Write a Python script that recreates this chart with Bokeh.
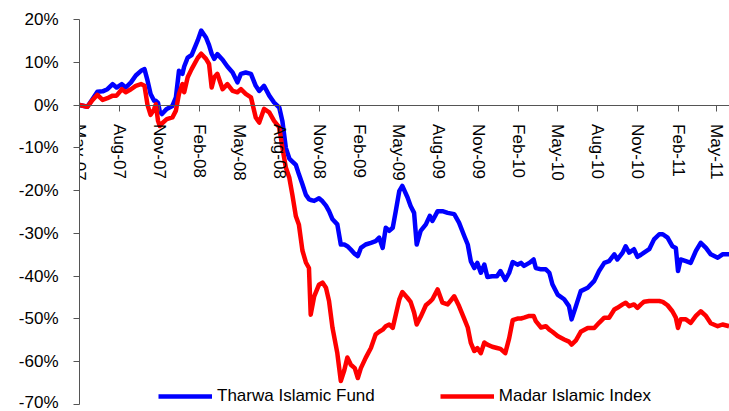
import math
from datetime import datetime
from bokeh.plotting import figure
from bokeh.models import (Range1d, FixedTicker, PrintfTickFormatter, DatetimeTickFormatter,
                          Legend, LegendItem)
from bokeh.embed import file_html
from bokeh.resources import INLINE

dates = [
    "2007-05-01", "2007-05-19", "2007-05-31", "2007-06-11", "2007-06-23", "2007-07-04", "2007-07-16",
    "2007-07-25", "2007-08-06", "2007-08-15", "2007-08-27", "2007-09-07", "2007-09-19", "2007-09-27",
    "2007-10-04", "2007-10-11", "2007-10-19", "2007-10-23", "2007-10-28", "2007-11-01", "2007-11-06",
    "2007-11-17", "2007-11-30", "2007-12-08", "2007-12-15", "2007-12-23", "2007-12-27", "2008-01-04",
    "2008-01-13", "2008-01-27", "2008-02-04", "2008-02-15", "2008-02-22", "2008-02-28", "2008-03-05",
    "2008-03-12", "2008-03-24", "2008-04-04", "2008-04-16", "2008-04-27", "2008-05-05", "2008-05-16",
    "2008-05-28", "2008-06-08", "2008-06-16", "2008-06-27", "2008-07-09", "2008-07-20", "2008-08-01",
    "2008-08-08", "2008-08-16", "2008-08-24", "2008-08-31", "2008-09-08", "2008-09-15", "2008-09-23",
    "2008-10-01", "2008-10-08", "2008-10-12", "2008-10-20", "2008-10-31", "2008-11-08", "2008-11-16",
    "2008-11-23", "2008-12-01", "2008-12-12", "2008-12-20", "2008-12-28", "2009-01-04", "2009-01-12",
    "2009-01-21", "2009-01-28", "2009-02-04", "2009-02-15", "2009-02-27", "2009-03-10", "2009-03-18",
    "2009-03-26", "2009-04-02", "2009-04-10", "2009-04-18", "2009-04-25", "2009-05-03", "2009-05-10",
    "2009-05-22", "2009-05-29", "2009-06-06", "2009-06-12", "2009-06-21", "2009-07-03", "2009-07-12",
    "2009-07-18", "2009-07-30", "2009-08-10", "2009-08-22", "2009-09-06", "2009-09-17", "2009-09-29",
    "2009-10-07", "2009-10-14", "2009-10-22", "2009-10-29", "2009-11-06", "2009-11-14", "2009-11-21",
    "2009-12-02", "2009-12-13", "2009-12-21", "2010-01-01", "2010-01-10", "2010-01-18", "2010-01-29",
    "2010-02-06", "2010-02-13", "2010-02-25", "2010-03-07", "2010-03-12", "2010-03-24", "2010-04-04",
    "2010-04-12", "2010-04-19", "2010-05-01", "2010-05-16", "2010-05-27", "2010-06-02", "2010-06-12",
    "2010-06-23", "2010-07-09", "2010-07-24", "2010-08-04", "2010-08-16", "2010-08-27", "2010-09-08",
    "2010-09-15", "2010-09-27", "2010-10-04", "2010-10-12", "2010-10-23", "2010-10-31", "2010-11-08",
    "2010-11-15", "2010-11-27", "2010-12-08", "2010-12-20", "2010-12-28", "2011-01-08", "2011-01-19",
    "2011-01-27", "2011-02-01", "2011-02-07", "2011-02-19", "2011-03-02", "2011-03-14", "2011-03-25",
    "2011-04-06", "2011-04-17", "2011-05-03", "2011-05-14", "2011-05-29",
]

tharwa_islamic_fund = [
    0.0, -0.4, 1.4, 3.1, 3.2, 3.7, 4.9, 4.1, 4.9, 4.1, 5.3, 6.9, 8.0, 8.4,
    5.7, 2.6, 1.0, 1.0, 0.5, -1.5, -2.1, -0.9, -0.2, 1.8, 8.0, 7.3, 9.0, 11.1,
    11.7, 15.1, 17.4, 15.8, 14.0, 12.0, 10.8, 11.9, 10.6, 9.0, 7.6, 5.3, 7.3, 7.6,
    7.3, 4.5, 3.3, 4.5, 2.2, 0.6, -0.6, -3.7, -10.0, -12.5, -13.2, -14.0, -16.2, -18.5,
    -21.0, -22.0, -22.2, -22.4, -21.8, -22.5, -23.5, -24.8, -26.7, -27.9, -32.6, -32.6, -33.0, -33.8,
    -34.8, -35.3, -33.4, -32.6, -32.2, -31.8, -31.0, -33.4, -28.7, -29.4, -28.7, -24.8, -20.1, -18.9,
    -21.6, -23.6, -25.2, -32.6, -29.4, -27.9, -25.9, -27.1, -24.8, -24.8, -25.2, -25.5, -27.5, -30.6,
    -32.6, -36.5, -38.1, -36.9, -39.2, -37.3, -40.2, -40.0, -40.0, -38.8, -40.9, -39.2, -36.7, -37.3,
    -36.9, -37.6, -36.9, -36.1, -38.1, -38.4, -38.4, -39.2, -41.9, -44.3, -45.4, -47.0, -50.1, -47.0,
    -43.5, -42.7, -41.1, -38.8, -36.9, -36.5, -34.9, -36.1, -34.5, -33.0, -34.5, -33.7, -35.5, -35.0,
    -34.5, -33.7, -31.4, -30.2, -30.2, -31.0, -33.0, -33.4, -38.8, -36.1, -36.5, -36.9, -34.1, -32.2,
    -33.4, -34.9, -35.7, -34.9, -34.9,
]

madar_islamic_index = [
    0.0, -0.4, 1.2, 2.4, 1.2, 1.6, 2.2, 2.2, 3.7, 3.0, 3.7, 4.5, 4.9, 4.5,
    0.0, -2.3, -1.0, 0.2, -3.7, -4.9, -4.3, -3.3, -2.9, -1.3, 2.6, 4.9, 3.0, 6.5,
    8.4, 11.0, 12.0, 10.8, 9.6, 4.1, 6.5, 7.3, 3.7, 4.9, 3.3, 3.0, 3.7, 2.6,
    1.8, -2.9, -4.1, -0.9, -1.7, -3.7, -5.2, -9.9, -14.6, -17.0, -21.0, -26.0, -28.0, -34.0,
    -36.8, -38.1, -49.0, -44.7, -42.0, -41.5, -42.7, -45.8, -52.1, -58.0, -64.5, -62.0, -59.0, -60.7,
    -61.5, -63.8, -61.5, -59.1, -56.8, -53.6, -53.0, -52.5, -51.7, -51.3, -52.1, -49.0, -45.5, -43.7,
    -45.1, -46.0, -48.5, -51.3, -49.5, -46.8, -46.0, -45.4, -43.1, -46.2, -46.6, -44.7, -47.0, -50.0,
    -52.0, -55.6, -57.5, -56.8, -58.0, -55.5, -56.0, -56.5, -56.8, -57.0, -58.0, -54.5, -50.3, -49.9,
    -49.9, -49.7, -49.3, -49.3, -50.5, -52.0, -51.7, -52.5, -53.0, -54.0, -54.8, -55.3, -56.0, -55.0,
    -53.0, -52.1, -52.1, -50.9, -49.7, -49.7, -47.8, -47.4, -46.6, -46.2, -47.0, -46.6, -47.4, -46.6,
    -46.0, -45.8, -45.8, -45.8, -46.0, -46.8, -48.2, -49.7, -52.1, -50.1, -50.1, -50.9, -49.3, -48.2,
    -49.3, -51.0, -51.7, -51.3, -51.7,
]

x_tick_labels = ["May-07", "Aug-07", "Nov-07", "Feb-08", "May-08", "Aug-08", "Nov-08", "Feb-09",
                 "May-09", "Aug-09", "Nov-09", "Feb-10", "May-10", "Aug-10", "Nov-10", "Feb-11", "May-11"]
y_ticks = [20, 10, 0, -10, -20, -30, -40, -50, -60, -70]

FONT = "Liberation Sans"

x = [datetime.strptime(d, "%Y-%m-%d") for d in dates]
epoch = datetime(1970, 1, 1)
tick_ms = [(datetime.strptime(t, "%b-%y") - epoch).total_seconds() * 1000 for t in x_tick_labels]

p = figure(width=729, height=411, x_axis_type="datetime", output_backend="svg",
           toolbar_location=None,
           x_range=Range1d(datetime(2007, 5, 1), datetime(2011, 5, 30)),
           y_range=Range1d(-70, 20),
           min_border_left=79, min_border_right=0, min_border_top=19, min_border_bottom=7)
p.grid.visible = False
p.outline_line_color = None
p.background_fill_color = "white"

axis_color = "#555555"

# x axis drawn at y = 0
xa = p.xaxis[0]
xa.fixed_location = 0
xa.ticker = FixedTicker(ticks=tick_ms)
fmt = "%b-%y"
xa.formatter = DatetimeTickFormatter(microseconds=fmt, milliseconds=fmt, seconds=fmt, minsec=fmt,
                                     minutes=fmt, hourmin=fmt, hours=fmt, days=fmt, months=fmt, years=fmt)
xa.major_label_orientation = "vertical"
xa.major_tick_in = 0
xa.major_tick_out = 6
xa.minor_tick_in = 0
xa.minor_tick_out = 0
xa.major_label_standoff = 13
xa.axis_line_color = axis_color
xa.major_tick_line_color = axis_color
xa.major_label_text_font = FONT
xa.major_label_text_font_size = "17px"
xa.major_label_text_color = "black"

ya = p.yaxis[0]
ya.ticker = FixedTicker(ticks=y_ticks)
ya.formatter = PrintfTickFormatter(format="%d%%")
ya.major_tick_in = 0
ya.major_tick_out = 6
ya.minor_tick_in = 0
ya.minor_tick_out = 0
ya.major_label_standoff = 15
ya.axis_line_color = axis_color
ya.major_tick_line_color = axis_color
ya.major_label_text_font = FONT
ya.major_label_text_font_size = "17px"
ya.major_label_text_color = "black"

r1 = p.line(x, tharwa_islamic_fund, line_color="#0000FF", line_width=4.5, line_join="round")
r2 = p.line(x, madar_islamic_index, line_color="#FF0000", line_width=4.5, line_join="round")

legend = Legend(items=[LegendItem(label="Tharwa Islamic Fund", renderers=[r1]),
                       LegendItem(label="Madar Islamic Index", renderers=[r2])],
                orientation="horizontal", location=(79, -2),
                glyph_width=54, glyph_height=16, label_height=16, label_standoff=5,
                spacing=65, padding=0, margin=0,
                border_line_color=None, background_fill_alpha=0,
                label_text_font=FONT, label_text_font_size="17px", label_text_color="black")
p.add_layout(legend)

open("out.html", "w").write(file_html(p, INLINE))
